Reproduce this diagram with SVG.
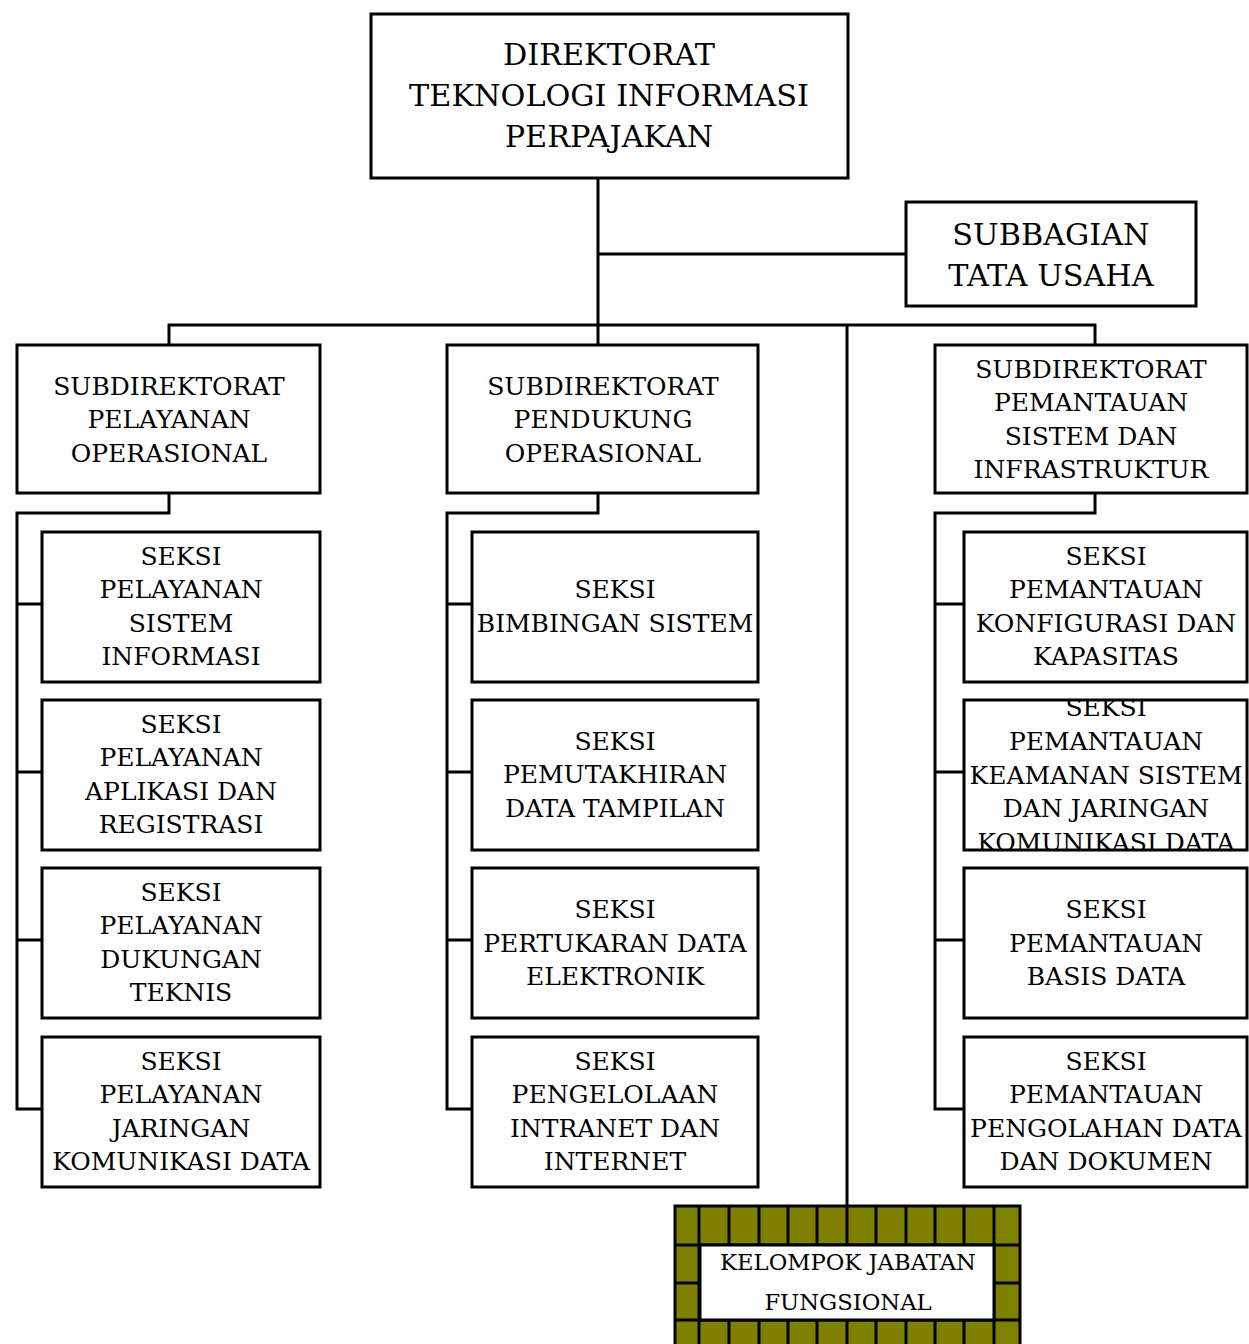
<svg xmlns="http://www.w3.org/2000/svg" width="1249" height="1344" viewBox="0 0 1249 1344">
<style>
.box{fill:#fff;stroke:#000;stroke-width:3}
.ln{fill:none;stroke:#000;stroke-width:3}
text{font-family:"DejaVu Serif","Liberation Serif",serif;fill:#000;text-anchor:middle}
.big{font-size:30.3px}
.mid{font-size:25px}
.sm{font-size:22.7px}
</style>
<defs>
<clipPath id="clipK"><rect x="964" y="701" width="283" height="148"/></clipPath>
</defs>
<rect width="1249" height="1344" fill="#fff"/>
<g id="connectors">
<path class="ln" d="M598 178V325M598 254H906M169 345V325H1095V345M598 325V345M847 325V1206"/>
<path class="ln" d="M169 493V513H17V1109H42M17 604H42M17 772H42M17 940H42"/>
<path class="ln" d="M598 493V513H447V1109H472M447 604H472M447 772H472M447 940H472"/>
<path class="ln" d="M1095 493V513H935V1109H964M935 604H964M935 772H964M935 940H964"/>
</g>
<g id="n_direktorat">
<rect class="box" x="371" y="14" width="477" height="164"/>
<text class="big" x="609" y="65">DIREKTORAT</text>
<text class="big" x="609" y="106">TEKNOLOGI INFORMASI</text>
<text class="big" x="609" y="147">PERPAJAKAN</text>
</g>
<g id="n_subbagian">
<rect class="box" x="906" y="202" width="290" height="104"/>
<text class="big" x="1051" y="245">SUBBAGIAN</text>
<text class="big" x="1051" y="286">TATA USAHA</text>
</g>
<g id="n_sub_pelayanan">
<rect class="box" x="17" y="345" width="303" height="148"/>
<text class="mid" x="169" y="395">SUBDIREKTORAT</text>
<text class="mid" x="169" y="428">PELAYANAN</text>
<text class="mid" x="169" y="462">OPERASIONAL</text>
</g>
<g id="n_sub_pendukung">
<rect class="box" x="447" y="345" width="311" height="148"/>
<text class="mid" x="603" y="395">SUBDIREKTORAT</text>
<text class="mid" x="603" y="428">PENDUKUNG</text>
<text class="mid" x="603" y="462">OPERASIONAL</text>
</g>
<g id="n_sub_pemantauan">
<rect class="box" x="935" y="345" width="312" height="148"/>
<text class="mid" x="1091" y="378">SUBDIREKTORAT</text>
<text class="mid" x="1091" y="411">PEMANTAUAN</text>
<text class="mid" x="1091" y="445">SISTEM DAN</text>
<text class="mid" x="1091" y="478">INFRASTRUKTUR</text>
</g>
<g id="n_l1">
<rect class="box" x="42" y="532" width="278" height="150"/>
<text class="mid" x="181" y="565">SEKSI</text>
<text class="mid" x="181" y="598">PELAYANAN</text>
<text class="mid" x="181" y="632">SISTEM</text>
<text class="mid" x="181" y="665">INFORMASI</text>
</g>
<g id="n_l2">
<rect class="box" x="42" y="700" width="278" height="150"/>
<text class="mid" x="181" y="733">SEKSI</text>
<text class="mid" x="181" y="766">PELAYANAN</text>
<text class="mid" x="181" y="800">APLIKASI DAN</text>
<text class="mid" x="181" y="833">REGISTRASI</text>
</g>
<g id="n_l3">
<rect class="box" x="42" y="868" width="278" height="150"/>
<text class="mid" x="181" y="901">SEKSI</text>
<text class="mid" x="181" y="934">PELAYANAN</text>
<text class="mid" x="181" y="968">DUKUNGAN</text>
<text class="mid" x="181" y="1001">TEKNIS</text>
</g>
<g id="n_l4">
<rect class="box" x="42" y="1037" width="278" height="150"/>
<text class="mid" x="181" y="1070">SEKSI</text>
<text class="mid" x="181" y="1103">PELAYANAN</text>
<text class="mid" x="181" y="1137">JARINGAN</text>
<text class="mid" x="181" y="1170">KOMUNIKASI DATA</text>
</g>
<g id="n_m1">
<rect class="box" x="472" y="532" width="286" height="150"/>
<text class="mid" x="615" y="598">SEKSI</text>
<text class="mid" x="615" y="632">BIMBINGAN SISTEM</text>
</g>
<g id="n_m2">
<rect class="box" x="472" y="700" width="286" height="150"/>
<text class="mid" x="615" y="750">SEKSI</text>
<text class="mid" x="615" y="783">PEMUTAKHIRAN</text>
<text class="mid" x="615" y="817">DATA TAMPILAN</text>
</g>
<g id="n_m3">
<rect class="box" x="472" y="868" width="286" height="150"/>
<text class="mid" x="615" y="918">SEKSI</text>
<text class="mid" x="615" y="952">PERTUKARAN DATA</text>
<text class="mid" x="615" y="985">ELEKTRONIK</text>
</g>
<g id="n_m4">
<rect class="box" x="472" y="1037" width="286" height="150"/>
<text class="mid" x="615" y="1070">SEKSI</text>
<text class="mid" x="615" y="1103">PENGELOLAAN</text>
<text class="mid" x="615" y="1137">INTRANET DAN</text>
<text class="mid" x="615" y="1170">INTERNET</text>
</g>
<g id="n_r1">
<rect class="box" x="964" y="532" width="283" height="150"/>
<text class="mid" x="1106" y="565">SEKSI</text>
<text class="mid" x="1106" y="598">PEMANTAUAN</text>
<text class="mid" x="1106" y="632">KONFIGURASI DAN</text>
<text class="mid" x="1106" y="665">KAPASITAS</text>
</g>
<g id="n_r2">
<rect class="box" x="964" y="700" width="283" height="150"/>
<g clip-path="url(#clipK)">
<text class="mid" x="1106" y="716">SEKSI</text>
<text class="mid" x="1106" y="750">PEMANTAUAN</text>
<text class="mid" x="1106" y="784">KEAMANAN SISTEM</text>
<text class="mid" x="1106" y="817">DAN JARINGAN</text>
<text class="mid" x="1106" y="851">KOMUNIKASI DATA</text>
</g>
</g>
<g id="n_r3">
<rect class="box" x="964" y="868" width="283" height="150"/>
<text class="mid" x="1106" y="918">SEKSI</text>
<text class="mid" x="1106" y="952">PEMANTAUAN</text>
<text class="mid" x="1106" y="985">BASIS DATA</text>
</g>
<g id="n_r4">
<rect class="box" x="964" y="1037" width="283" height="150"/>
<text class="mid" x="1106" y="1070">SEKSI</text>
<text class="mid" x="1106" y="1103">PEMANTAUAN</text>
<text class="mid" x="1106" y="1137">PENGOLAHAN DATA</text>
<text class="mid" x="1106" y="1170">DAN DOKUMEN</text>
</g>
<g id="n_fungsional">
<rect x="675" y="1206" width="345" height="145" fill="#808000" stroke="#000" stroke-width="3"/>
<path class="ln" d="M699 1206V1344M729 1206V1344M759 1206V1344M788 1206V1344M817 1206V1344M847 1206V1344M876 1206V1344M906 1206V1344M935 1206V1344M964 1206V1344M994 1206V1344M675 1245H1020M675 1283H1020M675 1320H1020"/>
<rect x="700" y="1245" width="294" height="75" fill="#fff" stroke="#000" stroke-width="3"/>
<text class="sm" x="848" y="1270">KELOMPOK JABATAN</text>
<text class="sm" x="848" y="1310">FUNGSIONAL</text>
</g>
</svg>
